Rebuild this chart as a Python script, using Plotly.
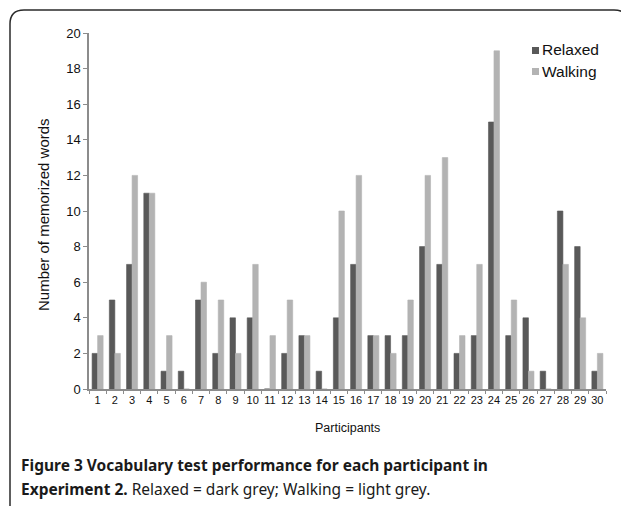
import plotly.graph_objects as go

participants = [str(i) for i in range(1, 31)]
relaxed = [2, 5, 7, 11, 1, 1, 5, 2, 4, 4, 0, 2, 3, 1, 4, 7, 3, 3, 3, 8, 7, 2, 3, 15, 3, 4, 1, 10, 8, 1]
walking = [3, 2, 12, 11, 3, 0, 6, 5, 2, 7, 3, 5, 3, 0, 10, 12, 3, 2, 5, 12, 13, 3, 7, 19, 5, 1, 0, 7, 4, 2]
series_names = ["Relaxed", "Walking"]
series_colors = ["#595959", "#b3b3b3"]
y_ticks = list(range(0, 21, 2))

# The page body has an 8px margin, so the figure is 8px smaller and
# all target pixel positions are shifted by OFF.
OFF = 8
W, H = 629 - OFF, 506 - OFF
L, T = 89 - OFF, 33 - OFF
R = W - (606 - OFF)
B = H - (389 - OFF)
PW, PH = W - L - R, H - T - B
SANS = "Liberation Sans"
CAP = "Noto Sans"


def px(x):
    return (x - OFF - L) / PW


def py(y):
    return (H - B - (y - OFF)) / PH


fig = go.Figure()
for name, vals, col in zip(series_names, [relaxed, walking], series_colors):
    fig.add_trace(go.Bar(
        x=participants, y=vals, name=name, showlegend=False,
        marker=dict(color=col, line=dict(color=col, width=0.6)),
    ))

fig.update_layout(
    width=W, height=H,
    margin=dict(l=L, r=R, t=T, b=B, autoexpand=False),
    paper_bgcolor="white", plot_bgcolor="white",
    barmode="group", bargap=0.36, bargroupgap=0.0,
    font=dict(family=SANS, color="#111"),
    xaxis=dict(
        type="category", showline=True, linecolor="#8c8c8c", linewidth=1.5,
        ticks="outside", tickson="boundaries", ticklen=3, tickcolor="#8c8c8c",
        tickfont=dict(size=11, family=SANS, color="#111"), tickangle=0,
        showgrid=False, automargin=False,
    ),
    yaxis=dict(
        range=[0, 20], tickvals=y_ticks, showline=True, linecolor="#8c8c8c", linewidth=1.5,
        ticks="outside", ticklen=4, tickcolor="#8c8c8c",
        tickfont=dict(size=13, family=SANS, color="#111"),
        showgrid=False, zeroline=False, automargin=False,
    ),
)

# Axis titles
fig.add_annotation(text="Number of memorized words", xref="paper", yref="paper",
                   x=px(43), y=py(215), xanchor="center", yanchor="middle", textangle=-90,
                   showarrow=False, font=dict(size=15, family=SANS, color="#111"))
fig.add_annotation(text="Participants", xref="paper", yref="paper",
                   x=px(347), y=py(428), xanchor="center", yanchor="middle",
                   showarrow=False, font=dict(size=12.5, family=SANS, color="#111"))

# Legend drawn as swatches + text
leg_y = [50, 71]
for name, col, yy in zip(series_names, series_colors, leg_y):
    fig.add_shape(type="rect", xref="paper", yref="paper",
                  x0=px(532), x1=px(539), y0=py(yy + 4), y1=py(yy - 3),
                  fillcolor=col, line=dict(width=0))
    fig.add_annotation(text=name, xref="paper", yref="paper", x=px(540), y=py(yy),
                       xanchor="left", yanchor="middle", showarrow=False,
                       font=dict(size=15.5, family=SANS, color="#111"))

# Caption
fig.add_annotation(
    text="<b>Figure 3 Vocabulary test performance for each participant in</b>",
    xref="paper", yref="paper", x=px(19), y=py(465), xanchor="left", yanchor="middle",
    showarrow=False, font=dict(size=15.5, family=CAP, color="#1a1a1a"))
fig.add_annotation(
    text="<b>Experiment 2.</b> Relaxed = dark grey; Walking = light grey.",
    xref="paper", yref="paper", x=px(19), y=py(489), xanchor="left", yanchor="middle",
    showarrow=False, font=dict(size=15.5, family=CAP, color="#1a1a1a"))

# Frame (top/left with rounded corners)
pts = (f"M {px(10)},{py(506)} L {px(10)},{py(24)} Q {px(10)},{py(10)} {px(24)},{py(10)} "
       f"L {px(614)},{py(10)} Q {px(626)},{py(10)} {px(629)},{py(20)}")
fig.add_shape(type="path", xref="paper", yref="paper", path=pts,
              line=dict(color="#2a2a2a", width=1.5))

fig.write_html("out.html")
